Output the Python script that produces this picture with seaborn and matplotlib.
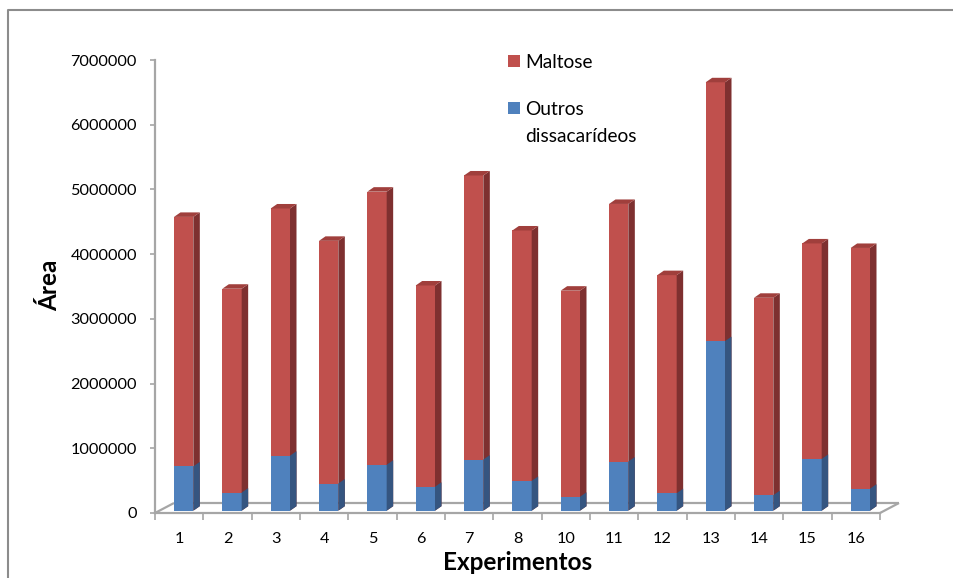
import matplotlib
matplotlib.use("Agg")
import numpy as np
import pandas as pd
import matplotlib.pyplot as plt
import seaborn as sns
from matplotlib.patches import Polygon, Rectangle
from matplotlib.lines import Line2D
from matplotlib import transforms as mtransforms

# ---- data -------------------------------------------------------------
experimentos = ["1", "2", "3", "4", "5", "6", "7", "8", "10", "11", "12", "13", "14", "15", "16"]
outros = [685000, 280000, 850000, 420000, 710000, 370000, 790000, 460000,
          215000, 760000, 270000, 2620000, 240000, 800000, 340000]
maltose = [3855000, 3150000, 3820000, 3750000, 4220000, 3110000, 4390000, 3870000,
           3185000, 3980000, 3370000, 4000000, 3050000, 3330000, 3720000]
series_names = ["Maltose", "Outros\ndissacarídeos"]
yticks = [0, 1000000, 2000000, 3000000, 4000000, 5000000, 6000000, 7000000]

# ---- style ------------------------------------------------------------
RED, RED_SIDE, RED_TOP = "#C0504D", "#7E3030", "#A03F3C"
BLUE, BLUE_SIDE = "#4F81BD", "#355580"
GRID = "#A6A6A6"

sns.set_theme(style="white")
plt.rcParams["font.family"] = ["Lato", "DejaVu Sans"]

W, H = 954, 578
fig = plt.figure(figsize=(W / 100, H / 100), dpi=100)
fig.patch.set_facecolor("white")


def fx(px):
    return px / W


def fy(py):
    return 1 - py / H


# plot area: x from 155 to 880 px, y from 60 to 513 px
ax = fig.add_axes([fx(155), fy(513), fx(880) - fx(155), fy(60) - fy(513)])

df = pd.DataFrame({"Experimento": experimentos, "Outros": outros, "Maltose": maltose})
df["Total"] = df["Outros"] + df["Maltose"]

sns.barplot(data=df, x="Experimento", y="Total", order=experimentos, color=RED,
            saturation=1, width=0.4, ax=ax, zorder=2)
n = len(experimentos)
red_bars = list(ax.patches[:n])
sns.barplot(data=df, x="Experimento", y="Outros", order=experimentos, color=BLUE,
            saturation=1, width=0.4, ax=ax, zorder=4)
blue_bars = list(ax.patches[n:2 * n])

ax.set_xlim(-0.5, n - 0.5)
ax.set_ylim(0, 7000000)

# pixel -> data conversions for the depth effect
px_x = (ax.get_window_extent().width) / n          # px per category
px_y = (ax.get_window_extent().height) / 7000000   # px per unit value

# set the front faces slightly back from the floor edge
setback = mtransforms.ScaledTranslation(4.5 / 100, 2.3 / 100, fig.dpi_scale_trans)
depth_dx, depth_dy = 6.5 / px_x, 4.5 / px_y


def add_faces(bar, side_color, top_color, z):
    x0, y0 = bar.get_x(), bar.get_y()
    x1, y1 = x0 + bar.get_width(), y0 + bar.get_height()
    bar.set_transform(ax.transData + setback)
    bar.set_edgecolor("none")
    side = Polygon([(x1, y0), (x1, y1), (x1 + depth_dx, y1 + depth_dy), (x1 + depth_dx, y0 + depth_dy)],
                   closed=True, facecolor=side_color, edgecolor="none",
                   transform=ax.transData + setback, zorder=z, clip_on=False)
    ax.add_patch(side)
    if top_color is not None:
        top = Polygon([(x0, y1), (x1, y1), (x1 + depth_dx, y1 + depth_dy), (x0 + depth_dx, y1 + depth_dy)],
                      closed=True, facecolor=top_color, edgecolor="none",
                      transform=ax.transData + setback, zorder=z, clip_on=False)
        ax.add_patch(top)


for b in red_bars:
    add_faces(b, RED_SIDE, RED_TOP, 2.5)
for b in blue_bars:
    add_faces(b, BLUE_SIDE, None, 4.5)

# floor outline
fdx, fdy = 19 / px_x, 10 / px_y
floor_kw = dict(color=GRID, lw=1.6, clip_on=False, solid_capstyle="butt")
ax.add_line(Line2D([-0.5 + fdx, n - 0.5 + fdx], [fdy, fdy], zorder=1, **floor_kw))
ax.add_line(Line2D([-0.5, -0.5 + fdx], [0, fdy], zorder=1, **floor_kw))
ax.add_line(Line2D([n - 0.5, n - 0.5 + fdx], [0, fdy], zorder=6, **floor_kw))

# axes styling
for s in ["top", "right"]:
    ax.spines[s].set_visible(False)
for s in ["left", "bottom"]:
    ax.spines[s].set_color(GRID)
    ax.spines[s].set_linewidth(1.6)
    ax.spines[s].set_zorder(6)

ax.set_yticks(yticks)
ax.set_yticklabels([str(v) for v in yticks])
ax.set_xticks(range(n))
ax.set_xticklabels(experimentos)
ax.set_xticks(np.arange(-0.5, n, 1.0), minor=True)
ax.tick_params(axis="y", which="major", length=5 * 0.72, width=1.2, color=GRID,
               pad=13 * 0.72, labelsize=11.7, labelcolor="black", left=True)
ax.tick_params(axis="x", which="major", length=0, pad=19 * 0.72,
               labelsize=11.7, labelcolor="black")
ax.tick_params(axis="x", which="minor", length=7 * 0.72, width=1.2, color=GRID,
               bottom=True)
ax.grid(False)
ax.set_facecolor("none")

ax.set_ylabel("Área", fontsize=17.5, fontweight="bold", color="black")
ax.yaxis.set_label_coords((61 - 155) / 725, (513 - 285) / 453)
ax.set_xlabel("Experimentos", fontsize=17.5, fontweight="bold", color="black")
ax.xaxis.set_label_coords(0.5, (513 - 551) / 453)

# legend: coloured squares with their series names
legend_items = [(series_names[0], RED, 61), (series_names[1], BLUE, 108)]
for name, col, yc in legend_items:
    fig.patches.append(Rectangle((fx(508), fy(yc + 6)), fx(12), 12 / H,
                                 transform=fig.transFigure, facecolor=col, edgecolor="none"))
    fig.text(fx(525), fy(yc - 7), name, ha="left", va="top",
             fontsize=13.8, color="black", linespacing=1.68)

# chart frame
fig.add_artist(Line2D([fx(8), fx(8), fx(W)], [fy(H), fy(10), fy(10)],
                      transform=fig.transFigure, color="#8C8C8C", lw=1.5))

fig.savefig("out.png", dpi=100, facecolor="white")
